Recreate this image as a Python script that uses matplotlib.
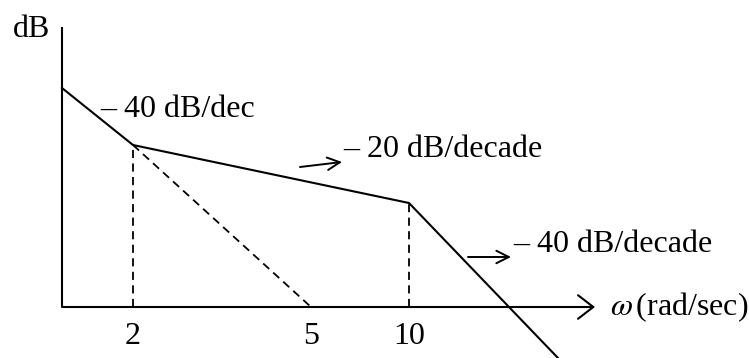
import matplotlib
matplotlib.use("Agg")
import matplotlib.pyplot as plt

plt.rcParams['font.family'] = ['Liberation Serif', 'DejaVu Serif']
plt.rcParams['mathtext.fontset'] = 'stix'

# sketch coordinates (axis origin at 0,0), not to scale
freq_labels = ['2', '5', '10']
freq_pos = [71, 249, 347]          # where each break frequency sits on the omega axis
asym_x = [0, 71, 347, 496]         # straight-line asymptote corners
asym_y = [219, 162, 104, -51]
slope_labels = ['– 40 dB/dec', '– 20 dB/decade', '– 40 dB/decade']

FS = 23
LW = 1.5
dash = (0, (4.5, 3))

fig = plt.figure(figsize=(7.49, 3.58), dpi=100)
ax = fig.add_axes([0, 0, 1, 1])
ax.set_xlim(-62, 687)
ax.set_ylim(-51, 307)
ax.axis('off')

# axes
ax.plot([0, 0], [0, 280], color='black', lw=LW, solid_capstyle='butt')
ax.annotate('', xy=(533, 0), xytext=(0, 0),
            arrowprops=dict(arrowstyle='->,head_length=1.1,head_width=0.85',
                            lw=LW, color='black', shrinkA=0, shrinkB=0,
                            mutation_scale=10))

# asymptotic magnitude plot
ax.plot(asym_x, asym_y, color='black', lw=LW, solid_joinstyle='miter')

# dashed guides: drop lines at the corners and the extended -40 slope
ax.plot([freq_pos[0], freq_pos[0]], [0, asym_y[1]], color='black', lw=1.3, linestyle=dash)
ax.plot([freq_pos[2], freq_pos[2]], [0, asym_y[2]], color='black', lw=1.3, linestyle=dash)
ax.plot([asym_x[1], freq_pos[1]], [asym_y[1], 0], color='black', lw=1.3, linestyle=dash)

# frequency labels
for lab, xp in zip(freq_labels, freq_pos):
    ax.text(xp, -37, lab, fontsize=FS, ha='center', va='baseline')

# slope annotations
ax.text(38, 190, slope_labels[0], fontsize=FS, ha='left', va='baseline')
ax.text(281, 150, slope_labels[1], fontsize=FS, ha='left', va='baseline')
ax.text(451, 55, slope_labels[2], fontsize=FS, ha='left', va='baseline')

arrow_kw = dict(arrowstyle='->,head_length=0.9,head_width=0.45',
                lw=1.4, color='black', shrinkA=0, shrinkB=0, mutation_scale=10)
ax.annotate('', xy=(280, 145), xytext=(238, 140), arrowprops=arrow_kw)
ax.annotate('', xy=(449, 50), xytext=(406, 50), arrowprops=arrow_kw)

# axis titles
ax.text(-49, 270, 'dB', fontsize=FS, ha='left', va='baseline')
ax.text(548, -8, r'$\omega\,$(rad/sec)', fontsize=FS, ha='left', va='baseline')

fig.savefig('out.png', dpi=100)
